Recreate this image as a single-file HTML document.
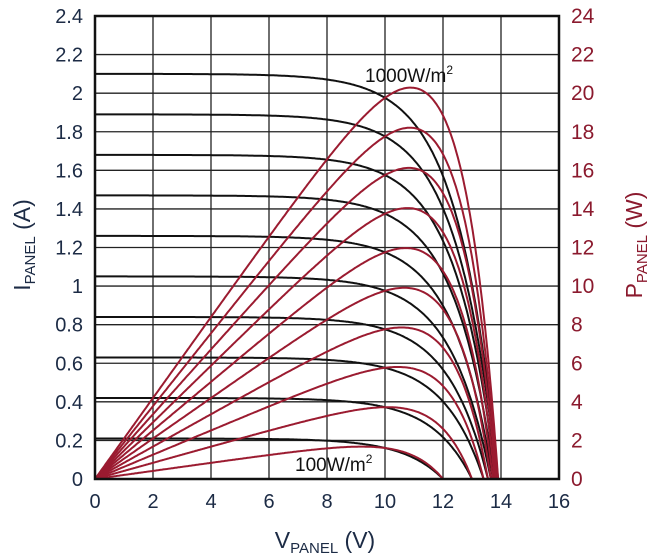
<!DOCTYPE html>
<html><head><meta charset="utf-8"><style>
body{margin:0;background:#fff;}
svg{display:block;font-family:"Liberation Sans",sans-serif;}
</style></head><body>
<svg id="s" width="660" height="560" xmlns="http://www.w3.org/2000/svg"></svg>
<script>
const s=document.getElementById('s');
const L=95,R=559,T=16,B=479;
const xs=v=>L+(R-L)*v/16, yI=i=>B-(B-T)*i/2.4, yP=p=>B-(B-T)*p/24;
let h='';
for(let v=0;v<=16;v+=2){h+=`<line x1="${xs(v)}" y1="${T}" x2="${xs(v)}" y2="${B}" stroke="#222" stroke-width="1.3"/>`;
h+=`<text x="${xs(v)}" y="508" font-size="20" fill="#1c2b45" text-anchor="middle">${v}</text>`;}
for(let k=0;k<=12;k++){const y=B-(B-T)*k/12;h+=`<line x1="${L}" y1="${y}" x2="${R}" y2="${y}" stroke="#222" stroke-width="1.3"/>`;
let lab=(k*0.2).toFixed(1).replace(/\.0$/,'');if(k==0)lab='0';
h+=`<text x="${L-12}" y="${y+7}" font-size="20" fill="#1c2b45" text-anchor="end">${lab}</text>`;
h+=`<text x="${R+12}" y="${y+7}" font-size="21" fill="#8b1a2e">${k*2}</text>`;}
const voc=[12,13,13.4,13.55,13.65,13.72,13.78,13.83,13.87,13.9];
const Vt=1.38;
let ip='',pp='';
for(let k=1;k<=10;k++){const Isc=0.21*k,Voc=voc[k-1];const D=Math.exp(Voc/Vt)-1;
let a=[],b=[];
for(let n=0;n<=300;n++){const v=Voc*n/300;let I=Isc*(1-(Math.exp(v/Vt)-1)/D);if(I<0)I=0;
a.push(xs(v).toFixed(1)+','+yI(I).toFixed(1));b.push(xs(v).toFixed(1)+','+yP(I*v).toFixed(1));}
ip+=`<polyline points="${a.join(' ')}" fill="none" stroke="#111" stroke-width="2"/>`;
pp+=`<polyline points="${b.join(' ')}" fill="none" stroke="#9b1b30" stroke-width="2"/>`;}
h+=ip+pp;
h+=`<rect x="${L}" y="${T}" width="${R-L}" height="${B-T}" fill="none" stroke="#111" stroke-width="2.5"/>`;
h+=`<text x="365" y="82" font-size="19" fill="#111">1000W/m<tspan font-size="12" dy="-8">2</tspan></text>`;
h+=`<text x="295" y="471" font-size="19" fill="#111">100W/m<tspan font-size="12" dy="-8">2</tspan></text>`;
h+=`<text x="325" y="548" font-size="23" fill="#1c2b45" text-anchor="middle">V<tspan font-size="15" dy="5">PANEL</tspan><tspan dy="-5"> (V)</tspan></text>`;
h+=`<text transform="translate(30,245) rotate(-90)" font-size="23" fill="#1c2b45" text-anchor="middle">I<tspan font-size="15" dy="5">PANEL</tspan><tspan dy="-5"> (A)</tspan></text>`;
h+=`<text transform="translate(642,245) rotate(-90)" font-size="23" fill="#8b1a2e" text-anchor="middle">P<tspan font-size="15" dy="5">PANEL</tspan><tspan dy="-5"> (W)</tspan></text>`;
s.innerHTML=h;
</script>
</body></html>
